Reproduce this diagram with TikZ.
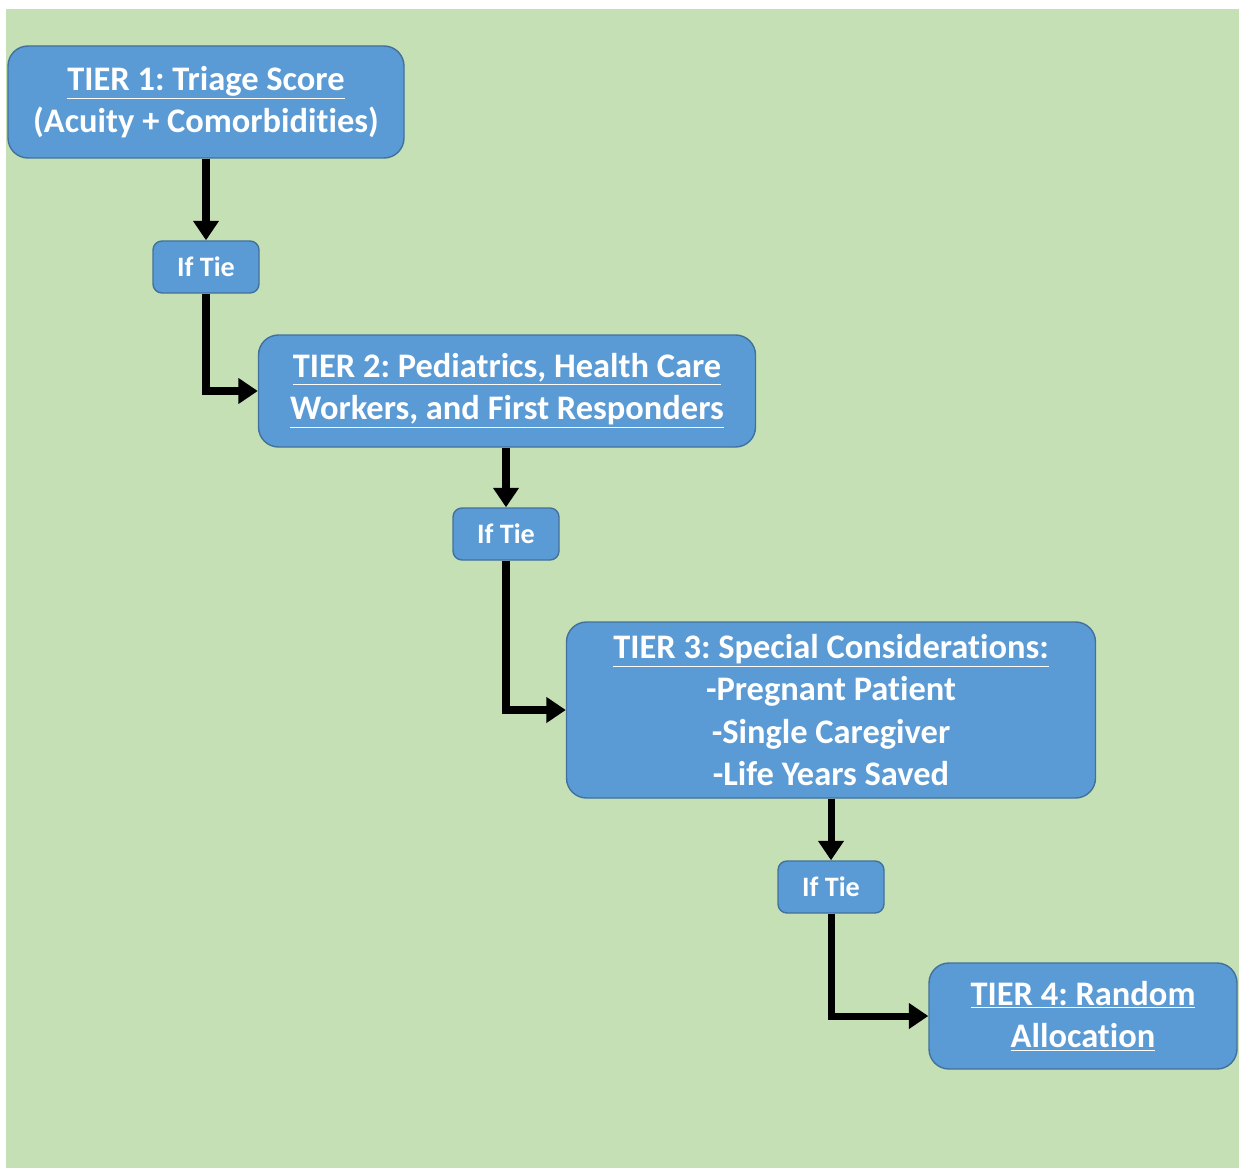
\documentclass[tikz,border=0pt]{standalone}
\usepackage{fontspec}
\setmainfont[Ligatures=NoCommon]{Carlito}
\usetikzlibrary{arrows.meta}
\definecolor{bggreen}{HTML}{C5E0B4}
\definecolor{boxblue}{HTML}{5B9BD5}
\definecolor{boxline}{HTML}{41719C}
\frenchspacing
\begin{document}
\begin{tikzpicture}[
		tier/.style= {draw=boxline, line width=0.8pt, fill=boxblue, rounded corners=0.4cm, text=white, align=center, font=\bfseries\fontsize{19.6}{24}\selectfont, inner sep=0pt},
		tie/.style= {draw=boxline, line width=0.8pt, fill=boxblue, rounded corners=0.18cm, text=white, font=\bfseries\fontsize{16}{18}\selectfont, minimum width=2.12cm, minimum height=1.04cm, inner sep=0pt},
		flow/.style= {line width=4pt, -{Triangle[width=14pt, length=11pt]}}
	]
		\useasboundingbox (0,0) rectangle (24.78,-23.36);
		\fill[white] (0,0) rectangle (24.78,-23.36);
		\fill[bggreen] (0.12,-0.18) rectangle (24.78,-23.36);
		\node[tier, minimum width=7.92cm, minimum height=2.24cm] (T1) at (4.12,-2.04) {\underline{TIER 1: Triage Score}\\(Acuity + Comorbidities)};
		\node[tie] (Tie1) at (4.12,-5.34) {If Tie};
		\node[tier, minimum width=9.94cm, minimum height=2.24cm] (T2) at (10.14,-7.82) {\underline{TIER 2: Pediatrics, Health Care}\\\underline{Workers, and First Responders}};
		\node[tie] (Tie2) at (10.12,-10.68) {If Tie};
		\node[tier, minimum width=10.58cm, minimum height=3.52cm] (T3) at (16.62,-14.2) {\underline{TIER 3: Special Considerations:}\\-Pregnant Patient\\-Single Caregiver\\-Life Years Saved};
		\node[tie] (Tie3) at (16.62,-17.74) {If Tie};
		\node[tier, minimum width=6.16cm, minimum height=2.12cm] (T4) at (21.66,-20.32) {\underline{TIER 4: Random}\\\underline{Allocation}};
		% Connections
		\draw [flow] (T1.south) -- (Tie1.north);
		\draw [flow] (Tie1.south) |- (T2.west);
		\draw [flow] (T2.south -| Tie2.north) -- (Tie2.north);
		\draw [flow] (Tie2.south) |- (T3.west);
		\draw [flow] (T3.south) -- (Tie3.north);
		\draw [flow] (Tie3.south) |- (T4.west);
	\end{tikzpicture}
\end{document}
